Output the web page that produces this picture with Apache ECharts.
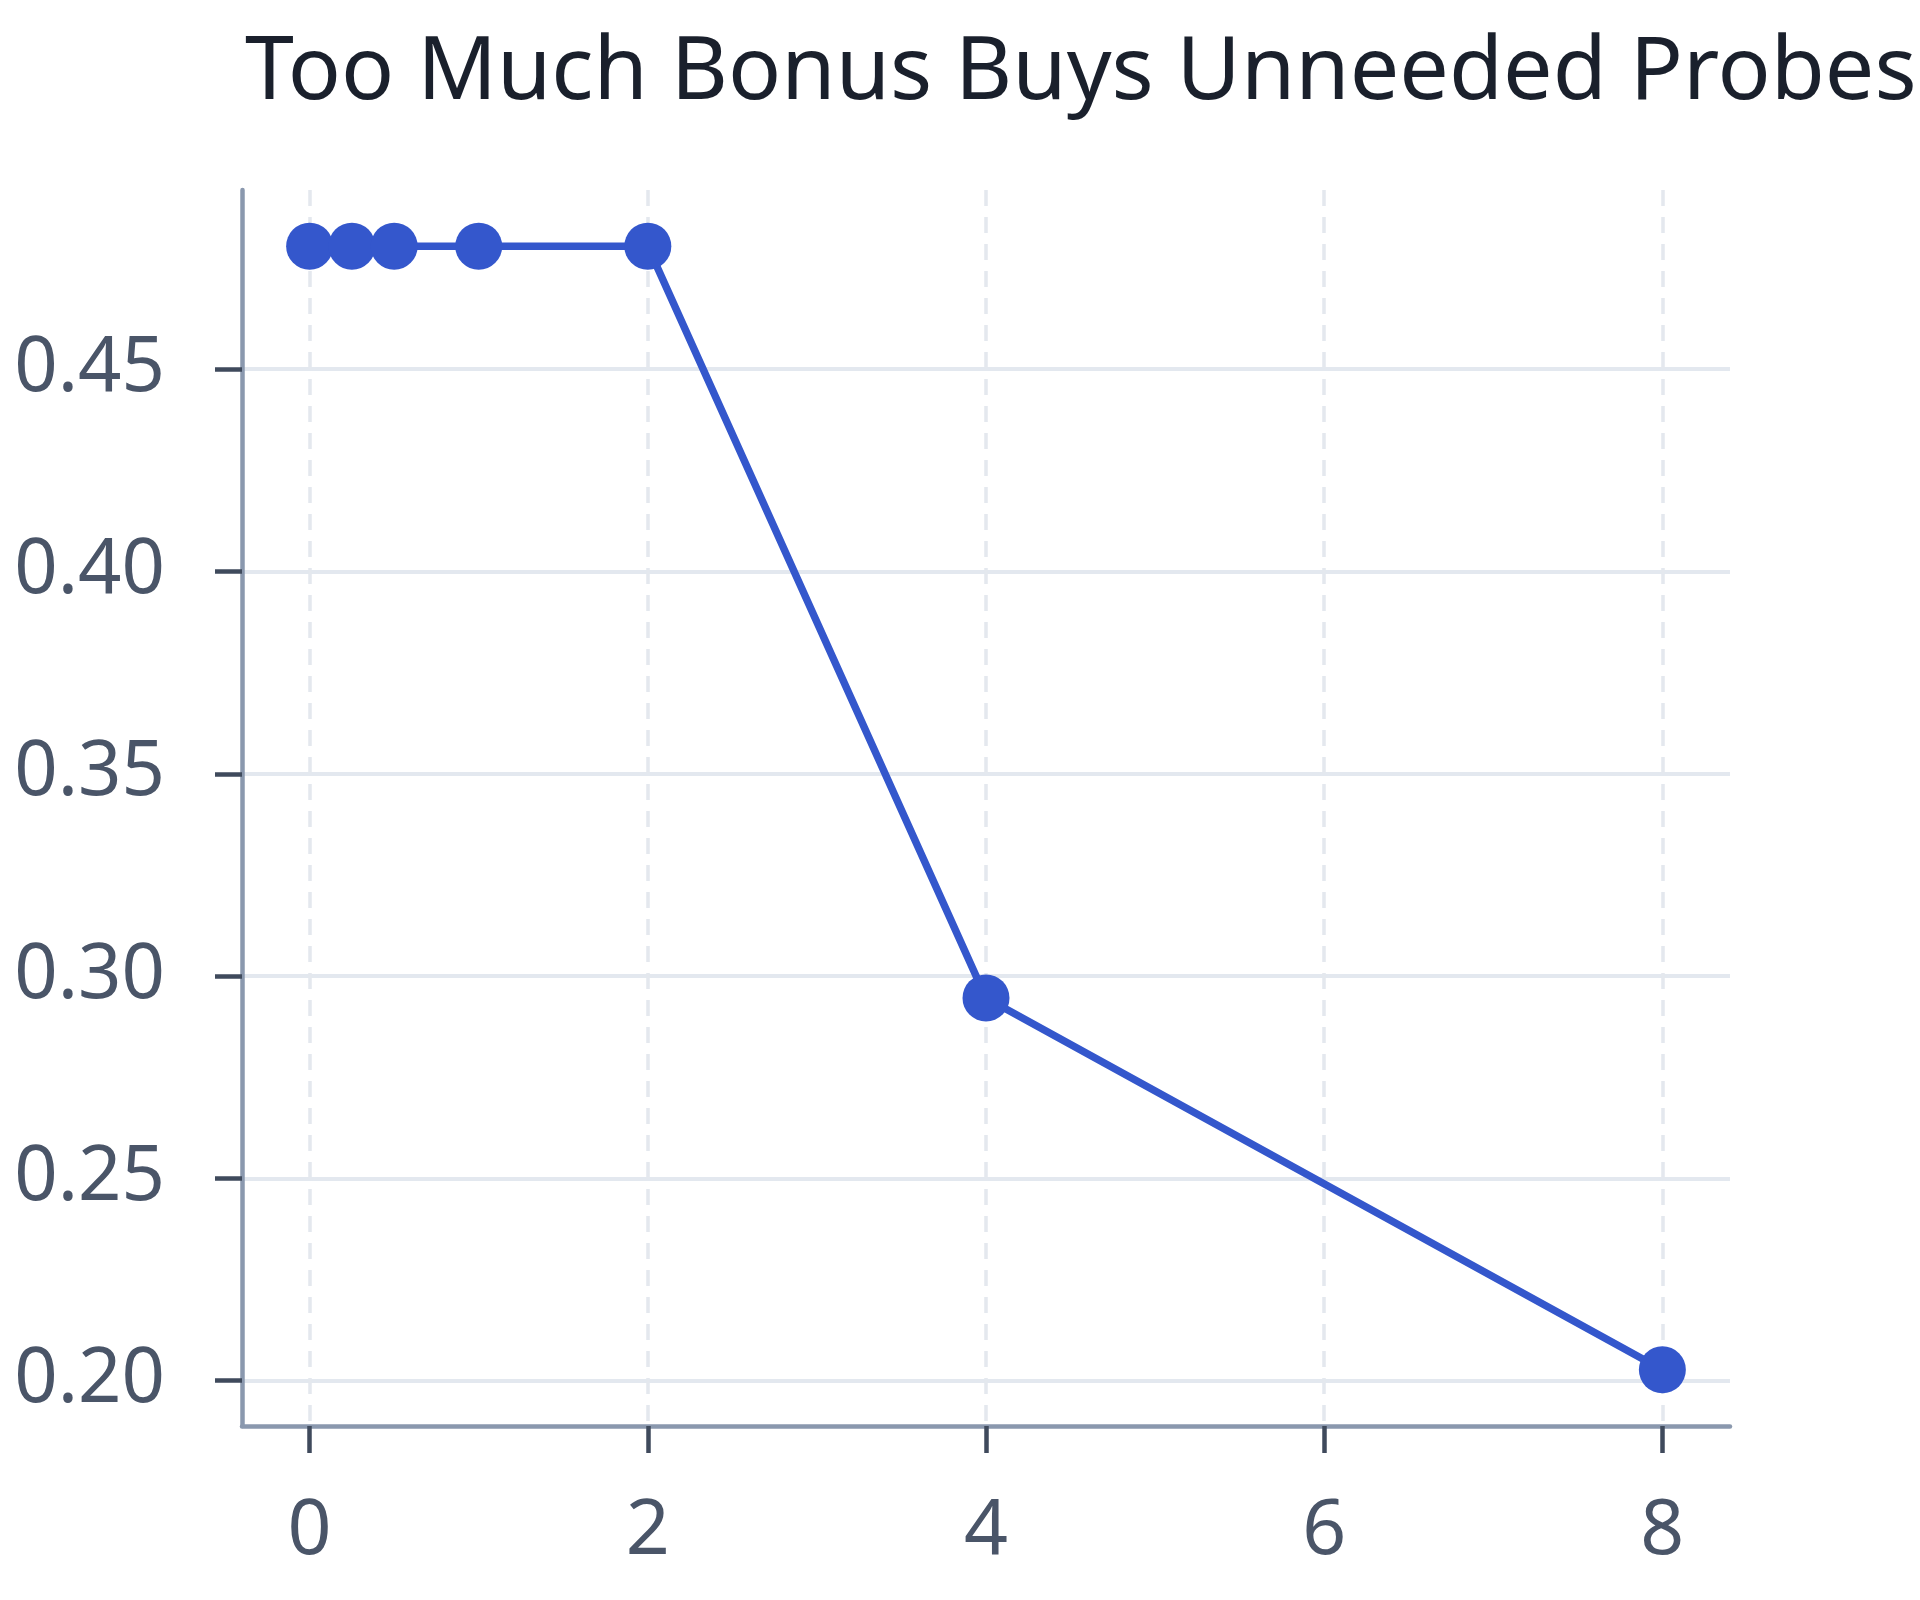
<!DOCTYPE html>
<html>
<head>
<meta charset="utf-8">
<script src="https://cdn.jsdelivr.net/npm/echarts@6/dist/echarts.min.js"></script>
<style>
html,body{margin:0;padding:0;background:#ffffff;}
#chart{width:1920px;height:1600px;}
</style>
</head>
<body>
<div id="chart"></div>
<script>
const titleText = 'Too Much Bonus Buys Unneeded Probes';
const xValues = [0, 0.25, 0.5, 1, 2, 4, 8];
const yValues = [0.4804, 0.4804, 0.4804, 0.4804, 0.4804, 0.2946, 0.2027];
const xTicks = [0, 2, 4, 6, 8];
const yTicks = [0.20, 0.25, 0.30, 0.35, 0.40, 0.45];
const xRange = [-0.4, 8.4];
const yRange = [0.1888, 0.4943];

const chart = echarts.init(document.getElementById('chart'), null, {renderer: 'canvas'});
const font = 'Noto Sans';
chart.setOption({
  backgroundColor: '#ffffff',
  animation: false,
  title: {
    text: titleText,
    left: 240,
    top: 25,
    textStyle: {fontFamily: font, fontSize: 88, fontWeight: 'normal', color: '#1a202c'}
  },
  grid: {left: 242, right: 190, top: 190, bottom: 174, containLabel: false},
  xAxis: {
    type: 'value',
    min: xRange[0],
    max: xRange[1],
    axisLine: {show: true, onZero: false, lineStyle: {color: '#8a98ae', width: 4.5}},
    axisTick: {show: true, length: 27, customValues: xTicks, lineStyle: {color: '#3f4a5c', width: 4.5}},
    axisLabel: {show: true, customValues: xTicks, margin: 68, fontFamily: font, fontSize: 77, color: '#4a5568',
      formatter: v => String(v)},
    splitLine: {show: true, lineStyle: {color: '#e4e8ee', width: 3.5, type: [16, 11]}}
  },
  yAxis: {
    type: 'value',
    min: yRange[0],
    max: yRange[1],
    axisLine: {show: true, onZero: false, lineStyle: {color: '#8a98ae', width: 4.5}},
    axisTick: {show: true, length: 27, customValues: yTicks, lineStyle: {color: '#3f4a5c', width: 4.5}},
    axisLabel: {show: true, customValues: yTicks, margin: 77, fontFamily: font, fontSize: 76, color: '#4a5568',
      formatter: v => v.toFixed(2)},
    splitLine: {show: true, lineStyle: {color: '#e3e8ef', width: 4}}
  },
  series: [{
    type: 'line',
    data: xValues.map((x, i) => [x, yValues[i]]),
    symbol: 'circle',
    symbolSize: 47,
    lineStyle: {color: '#3457cc', width: 7.5},
    itemStyle: {color: '#3457cc'},
    clip: false
  }]
});
</script>
</body>
</html>
